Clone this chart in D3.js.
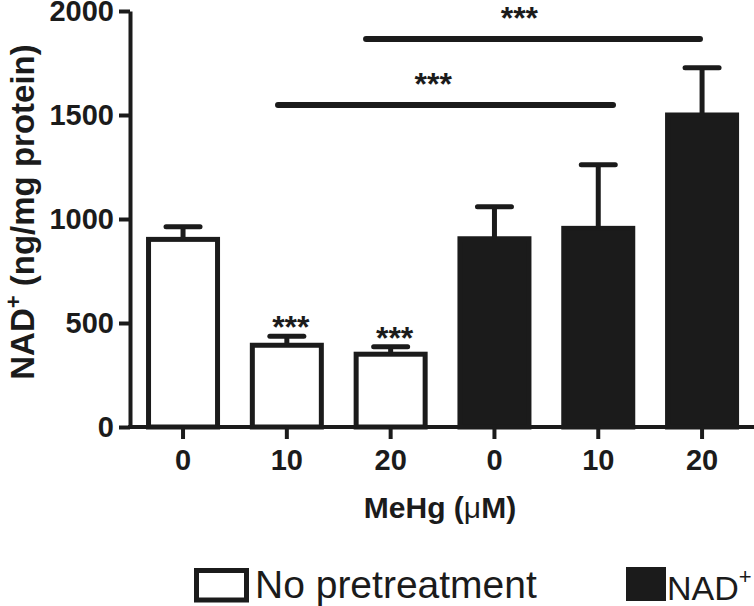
<!DOCTYPE html>
<html>
<head>
<meta charset="utf-8">
<script src="https://cdn.jsdelivr.net/npm/d3@7"></script>
<style>
  html, body { margin: 0; padding: 0; background: #fff; }
  svg { display: block; font-family: "Liberation Sans", Arial, sans-serif; }
</style>
</head>
<body>
<svg id="chart" width="754" height="606"></svg>
<script>
// ---- data ----
const categories = ["0", "10", "20", "0", "10", "20"];
const groups = ["No pretreatment", "No pretreatment", "No pretreatment", "NAD+", "NAD+", "NAD+"];
const means = [902, 393, 350, 905, 955, 1500];
const sems = [61, 43, 36, 154, 306, 227];
const barStars = ["", "***", "***", "", "", ""];
const yTicks = [0, 500, 1000, 1500, 2000];
// significance brackets: positions in category-index units
const sigFrom = [0.915, 1.763];
const sigTo = [4.142, 4.98];
const sigValue = [1548, 1865];
const sigLabelAt = [2.41, 3.24];
const sigLabels = ["***", "***"];

const ink = "#1b1b1b";
const svg = d3.select("#chart");

const y = d3.scaleLinear().domain([0, 2000]).range([427, 11]);
const x = d3.scaleBand().domain(d3.range(categories.length))
  .range([131.5, 753.6]).paddingInner(0.2871).paddingOuter(0.14);
const cx = i => x(i) + x.bandwidth() / 2;
const xi = d3.scaleLinear().domain([0, 5]).range([cx(0), cx(5)]);

// y axis
const yAxis = svg.append("g").attr("transform", "translate(130,0)")
  .call(d3.axisLeft(y).tickValues(yTicks).tickFormat(d3.format("d"))
    .tickSize(11).tickSizeOuter(0).tickPadding(5));
yAxis.select(".domain").attr("stroke", ink).attr("stroke-width", 4);
yAxis.selectAll(".tick line").attr("stroke", ink).attr("stroke-width", 4);
yAxis.selectAll(".tick text").attr("fill", ink).attr("font-size", 29).attr("font-weight", "bold")
  .attr("font-family", "Liberation Sans, Arial, sans-serif");

// bars
const stroke = 5;
svg.append("g").selectAll("rect").data(means).join("rect")
  .attr("x", (d, i) => x(i) + stroke / 2)
  .attr("width", x.bandwidth() - stroke)
  .attr("y", d => y(d))
  .attr("height", d => y(0) - y(d))
  .attr("fill", (d, i) => groups[i] === "NAD+" ? ink : "#fff")
  .attr("stroke", ink).attr("stroke-width", stroke);

// error bars
const eb = svg.append("g").attr("stroke", ink).attr("stroke-width", 5);
means.forEach((m, i) => {
  eb.append("line").attr("x1", cx(i)).attr("x2", cx(i))
    .attr("y1", y(m)).attr("y2", y(m + sems[i]));
  eb.append("line").attr("x1", cx(i) - 17).attr("x2", cx(i) + 17)
    .attr("y1", y(m + sems[i])).attr("y2", y(m + sems[i]))
    .attr("stroke-linecap", "round");
});

// x axis
const xAxis = svg.append("g").attr("transform", "translate(0,427)")
  .call(d3.axisBottom(x).tickFormat(i => categories[i]).tickSize(12).tickSizeOuter(0).tickPadding(10));
xAxis.select(".domain").attr("stroke", ink).attr("stroke-width", 4).attr("d", "M128,0H754");
xAxis.selectAll(".tick line").attr("stroke", ink).attr("stroke-width", 4);
xAxis.selectAll(".tick text").attr("fill", ink).attr("font-size", 29).attr("font-weight", "bold")
  .attr("font-family", "Liberation Sans, Arial, sans-serif");

// stars above bars
svg.append("g").selectAll("text").data(barStars).join("text")
  .attr("x", (d, i) => cx(i) + 4)
  .attr("y", (d, i) => y(means[i] + sems[i]) + 2)
  .attr("text-anchor", "middle")
  .attr("font-size", 32).attr("font-weight", "bold").attr("fill", ink)
  .text(d => d);

// significance brackets
const sg = svg.append("g");
sigValue.forEach((v, k) => {
  sg.append("line").attr("x1", xi(sigFrom[k])).attr("x2", xi(sigTo[k]))
    .attr("y1", y(v)).attr("y2", y(v))
    .attr("stroke", ink).attr("stroke-width", 6).attr("stroke-linecap", "round");
  sg.append("text").attr("x", xi(sigLabelAt[k])).attr("y", y(v) - 10)
    .attr("text-anchor", "middle").attr("font-size", 32).attr("font-weight", "bold")
    .attr("fill", ink).text(sigLabels[k]);
});

// axis titles
svg.append("text").attr("x", 440).attr("y", 518).attr("text-anchor", "middle")
  .attr("font-size", 30).attr("font-weight", "bold").attr("fill", ink)
  .call(t => {
    t.append("tspan").text("MeHg (");
    t.append("tspan").attr("font-weight", "normal").text("\u03BC");
    t.append("tspan").text("M)");
  });

svg.append("text").attr("transform", "translate(34,212) rotate(-90)")
  .attr("text-anchor", "middle").attr("font-size", 33).attr("font-weight", "bold").attr("fill", ink)
  .call(t => {
    t.append("tspan").text("NAD");
    t.append("tspan").attr("font-size", 22).attr("dy", -13).text("+");
    t.append("tspan").attr("dy", 13).text(" (ng/mg protein)");
  });

// legend
const lg = svg.append("g");
lg.append("rect").attr("x", 196.5).attr("y", 570.5).attr("width", 50).attr("height", 29.5)
  .attr("fill", "#fff").attr("stroke", ink).attr("stroke-width", 5);
lg.append("text").attr("x", 255).attr("y", 598).attr("font-size", 39).attr("fill", ink)
  .text("No pretreatment");
lg.append("rect").attr("x", 626).attr("y", 567).attr("width", 40).attr("height", 34)
  .attr("fill", ink);
lg.append("text").attr("x", 667).attr("y", 600).attr("font-size", 34).attr("fill", ink)
  .call(t => {
    t.append("tspan").text("NAD");
    t.append("tspan").attr("font-size", 22).attr("dy", -16).text("+");
  });
</script>
</body>
</html>
